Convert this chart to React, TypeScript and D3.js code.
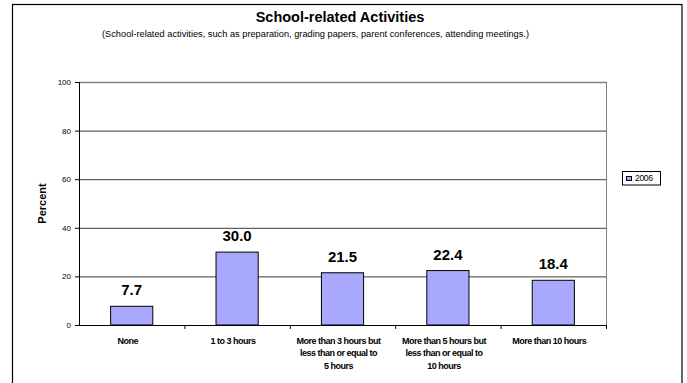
import React from "react";
import * as d3 from "d3";

const categories: string[][] = [
  ["None"],
  ["1 to 3 hours"],
  ["More than 3 hours but", "less than or equal to", "5 hours"],
  ["More than 5 hours but", "less than or equal to", "10 hours"],
  ["More than 10 hours"],
];
const values2006: number[] = [7.7, 30.0, 21.5, 22.4, 18.4];
const yTicks: number[] = [0, 20, 40, 60, 80, 100];
const seriesName = "2006";
const title = "School-related Activities";
const subtitle =
  "(School-related activities, such as preparation, grading papers, parent conferences, attending meetings.)";

const W = 687;
const H = 383;
const plot = { left: 79, right: 606, top: 82, bottom: 325 };
const font = "'Liberation Sans', Arial, Helvetica, sans-serif";

export default function App() {
  const keys = categories.map((_, i) => String(i));
  const x = d3.scaleBand<string>().domain(keys).range([plot.left, plot.right]).paddingInner(0).paddingOuter(0);
  const y = d3.scaleLinear().domain([0, 100]).range([plot.bottom, plot.top]);
  const bw = x.bandwidth();
  const barW = bw / 2.5;

  return (
    <svg
      width={W}
      height={H}
      style={{ position: "absolute", left: 0, top: 0, background: "#fff" }}
      fontFamily={font}
    >
      <rect x={0} y={0} width={W} height={H} fill="#fff" />
      {/* outer chart border */}
      <rect x={12.5} y={4.5} width={669.5} height={H + 5} fill="none" stroke="#000" strokeWidth={1.2} />

      {/* title */}
      <text x={340} y={21.5} textAnchor="middle" fontSize={14.5} fontWeight="bold" fill="#000">
        {title}
      </text>
      <text x={102} y={36.5} textAnchor="start" fontSize={8.5} fill="#000" textLength={427} lengthAdjust="spacingAndGlyphs">
        {subtitle}
      </text>

      {/* gridlines */}
      {yTicks.filter((t) => t > 0).map((t) => (
        <line key={t} x1={plot.left} x2={plot.right} y1={y(t) + 0.5} y2={y(t) + 0.5} stroke="#3a3a3a" strokeWidth={1} />
      ))}
      {/* plot area border (right/top) */}
      <line x1={plot.right + 0.5} x2={plot.right + 0.5} y1={plot.top} y2={plot.bottom} stroke="#808080" strokeWidth={1} />
      <line x1={plot.left} x2={plot.right + 1} y1={plot.top + 0.5} y2={plot.top + 0.5} stroke="#808080" strokeWidth={1.5} />

      {/* bars */}
      {values2006.map((v, i) => {
        const cx = (x(String(i)) as number) + bw / 2;
        return (
          <g key={i}>
            <rect
              x={cx - barW / 2}
              y={y(v)}
              width={barW}
              height={y(0) - y(v)}
              fill="#a8a8ff"
              stroke="#000"
              strokeWidth={1}
            />
            <text x={cx} y={y(v) - 11} textAnchor="middle" fontSize={15} fontWeight="bold" fill="#000">
              {v.toFixed(1)}
            </text>
          </g>
        );
      })}

      {/* y axis */}
      <line x1={plot.left + 0.5} x2={plot.left + 0.5} y1={plot.top} y2={plot.bottom + 1} stroke="#000" strokeWidth={1} />
      {yTicks.map((t) => (
        <g key={t}>
          <line x1={plot.left - 4} x2={plot.left} y1={y(t) + 0.5} y2={y(t) + 0.5} stroke="#000" strokeWidth={1} />
          <text x={plot.left - 8} y={y(t) + 3} textAnchor="end" fontSize={8} fill="#000">
            {t}
          </text>
        </g>
      ))}
      <text
        transform={`translate(45.5, ${(plot.top + plot.bottom) / 2}) rotate(-90)`}
        textAnchor="middle"
        fontSize={11}
        fontWeight="bold"
        fill="#000"
      >
        Percent
      </text>

      {/* x axis */}
      <line x1={plot.left} x2={plot.right + 1} y1={plot.bottom + 0.5} y2={plot.bottom + 0.5} stroke="#000" strokeWidth={1} />
      {keys.map((k) => (
        <line
          key={"t" + k}
          x1={(x(k) as number) + bw + 0.5}
          x2={(x(k) as number) + bw + 0.5}
          y1={plot.bottom}
          y2={plot.bottom + 4}
          stroke="#000"
          strokeWidth={1}
        />
      ))}
      {categories.map((lines, i) => {
        const cx = (x(String(i)) as number) + bw / 2 - 4;
        return (
          <text key={"c" + i} textAnchor="middle" fontSize={9} fontWeight="bold" fill="#000" letterSpacing={-0.5}>
            {lines.map((l, j) => (
              <tspan key={j} x={cx} y={343.5 + j * 12.7}>
                {l}
              </tspan>
            ))}
          </text>
        );
      })}

      {/* legend */}
      <rect x={622.5} y={171.5} width={38} height={13.5} fill="#fff" stroke="#000" strokeWidth={1} />
      <rect x={626.5} y={176.5} width={5} height={4} fill="#a8a8ff" stroke="#000" strokeWidth={1} />
      <text x={635} y={181} fontSize={8.5} fill="#000" letterSpacing={-0.3}>
        {seriesName}
      </text>
    </svg>
  );
}
